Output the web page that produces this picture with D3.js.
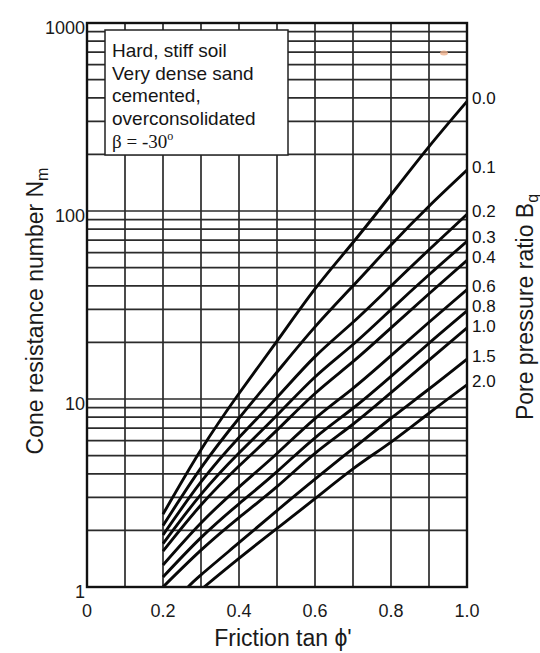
<!DOCTYPE html>
<html><head><meta charset="utf-8">
<script src="https://cdn.jsdelivr.net/npm/d3@7"></script>
<style>body{margin:0;background:#fff}svg{display:block}</style>
</head><body><svg id="c" width="540" height="653"></svg>
<script>
// ---- data ----
const tanPhi = [0.2, 0.3, 0.4, 0.5, 0.6, 0.7, 0.8, 0.9, 1.0];
const nmBq00 = [2.44, 5.37, 10.7, 20.3, 38.5, 68, 122, 220, 383];
const nmBq01 = [2.12, 4.3, 7.9, 13.9, 24.2, 40, 66, 106, 165];
const nmBq02 = [1.89, 3.62, 6.24, 10.2, 16.8, 25.6, 39.9, 62.2, 96];
const nmBq03 = [1.70, 3.11, 5.16, 8.19, 13.1, 19.5, 29.9, 45.8, 69];
const nmBq04 = [1.55, 2.73, 4.40, 6.83, 10.7, 15.8, 23.9, 36.3, 54.6];
const nmBq06 = [1.31, 2.19, 3.40, 5.13, 7.87, 11.4, 17.0, 25.6, 38.2];
const nmBq08 = [1.13, 1.83, 2.77, 4.11, 6.22, 8.93, 13.2, 19.8, 29.4];
const nmBq10 = [1.0, 1.57, 2.34, 3.42, 5.14, 7.34, 10.8, 16.1, 23.9];
const tanPhiBq15 = [0.266, 0.3, 0.4, 0.5, 0.6, 0.7, 0.8, 0.9, 1.0];
const nmBq15 = [1.0, 1.16, 1.72, 2.55, 3.75, 5.45, 7.9, 11.3, 16.3];
const tanPhiBq20 = [0.308, 0.4, 0.5, 0.6, 0.7, 0.8, 0.9, 1.0];
const nmBq20 = [1.0, 1.42, 2.05, 2.95, 4.25, 5.9, 8.4, 11.9];
const bqLabels = ["0.0", "0.1", "0.2", "0.3", "0.4", "0.6", "0.8", "1.0", "1.5", "2.0"];
const xTickValues = [0, 0.2, 0.4, 0.6, 0.8, 1.0];
const xTickLabels = ["0", "0.2", "0.4", "0.6", "0.8", "1.0"];
const yTickValues = [1, 10, 100, 1000];
const yTickLabels = ["1", "10", "100", "1000"];
const legendLines = ["Hard, stiff soil", "Very dense sand", "cemented,", "overconsolidated"];
const betaLine = "β = -30";

const series = [
  {label: bqLabels[0], x: tanPhi, y: nmBq00},
  {label: bqLabels[1], x: tanPhi, y: nmBq01},
  {label: bqLabels[2], x: tanPhi, y: nmBq02},
  {label: bqLabels[3], x: tanPhi, y: nmBq03},
  {label: bqLabels[4], x: tanPhi, y: nmBq04},
  {label: bqLabels[5], x: tanPhi, y: nmBq06},
  {label: bqLabels[6], x: tanPhi, y: nmBq08},
  {label: bqLabels[7], x: tanPhi, y: nmBq10},
  {label: bqLabels[8], x: tanPhiBq15, y: nmBq15},
  {label: bqLabels[9], x: tanPhiBq20, y: nmBq20}
];

// ---- layout ----
const L = 87, R = 467, T = 23, B = 587;
const svg = d3.select("#c");
const x = d3.scaleLinear().domain([0, 1]).range([L, R]);
const y = d3.scaleLog().domain([1, 1000]).range([B, T]);
const sans = "'Liberation Sans', Arial, Helvetica, sans-serif";
const serif = "'Liberation Serif', 'Times New Roman', serif";

// grid
const g = svg.append("g");
const vGrid = d3.range(0, 11).map(i => i / 10);
g.selectAll("line.v").data(vGrid).join("line")
  .attr("x1", d => x(d)).attr("x2", d => x(d))
  .attr("y1", T).attr("y2", B)
  .attr("stroke", "#2b2b2b").attr("stroke-width", 1.7);
const hGrid = [];
[1, 10, 100].forEach(dec => { for (let k = 1; k < 10; k++) hGrid.push(dec * k); });
hGrid.push(1000);
g.selectAll("line.h").data(hGrid).join("line")
  .attr("x1", L).attr("x2", R)
  .attr("y1", d => y(d)).attr("y2", d => y(d))
  .attr("stroke", "#2b2b2b").attr("stroke-width", 1.7);

// clip
svg.append("clipPath").attr("id", "clip").append("rect")
  .attr("x", L).attr("y", T).attr("width", R - L).attr("height", B - T);

// curves
const line = d3.line().x(d => x(d[0])).y(d => y(d[1])).curve(d3.curveNatural);
svg.append("g").attr("clip-path", "url(#clip)")
  .selectAll("path").data(series).join("path")
  .attr("d", s => line(s.x.map((v, i) => [v, s.y[i]])))
  .attr("fill", "none").attr("stroke", "#080808").attr("stroke-width", 2.9)
  .attr("stroke-linejoin", "round");

// frame
svg.append("rect").attr("x", L).attr("y", T).attr("width", R - L).attr("height", B - T)
  .attr("fill", "none").attr("stroke", "#111").attr("stroke-width", 2.4);

// curve labels: at line ends, nudged apart so they never collide
const labelPos = series.map(s => y(s.y[s.y.length - 1]) - 2);
for (let i = 1; i < labelPos.length; i++) {
  if (labelPos[i] - labelPos[i - 1] < 20) {
    const mid = (labelPos[i] + labelPos[i - 1]) / 2;
    labelPos[i - 1] = mid - 10; labelPos[i] = mid + 10;
  }
}
svg.append("g").selectAll("text").data(series).join("text")
  .attr("x", R + 5)
  .attr("y", (s, i) => labelPos[i])
  .attr("dominant-baseline", "middle")
  .attr("font-family", sans).attr("font-size", 17).attr("fill", "#111")
  .text(s => s.label);

// x tick labels
svg.append("g").selectAll("text").data(xTickValues).join("text")
  .attr("x", d => x(d)).attr("y", B + 30)
  .attr("text-anchor", "middle")
  .attr("font-family", sans).attr("font-size", 18).attr("fill", "#1a1a1a")
  .text((d, i) => xTickLabels[i]);

// y tick labels
svg.append("g").selectAll("text").data(yTickValues).join("text")
  .attr("x", L - 2).attr("y", d => y(d) + 6)
  .attr("text-anchor", "end").attr("dominant-baseline", "middle")
  .attr("font-family", sans).attr("font-size", 18).attr("fill", "#1a1a1a")
  .text((d, i) => yTickLabels[i]);

// x title
const xt = svg.append("text").attr("x", (L + R) / 2 + 6).attr("y", 646)
  .attr("text-anchor", "middle").attr("font-family", sans).attr("font-size", 23).attr("fill", "#1a1a1a");
xt.append("tspan").text("Friction tan ");
xt.append("tspan").text("ϕ'");

// y title
const yt = svg.append("text").attr("transform", `translate(43,${(T + B) / 2 + 6}) rotate(-90)`)
  .attr("text-anchor", "middle").attr("font-family", sans).attr("font-size", 23).attr("fill", "#1a1a1a");
yt.append("tspan").text("Cone resistance number N");
yt.append("tspan").attr("font-size", 16).attr("dy", 5).text("m");

// right title
const rt = svg.append("text").attr("transform", `translate(533,${(T + B) / 2 + 2}) rotate(-90)`)
  .attr("text-anchor", "middle").attr("font-family", sans).attr("font-size", 23).attr("fill", "#1a1a1a");
rt.append("tspan").text("Pore pressure ratio B");
rt.append("tspan").attr("font-size", 16).attr("dy", 5).text("q");

// legend box
svg.append("rect").attr("x", 105).attr("y", 30).attr("width", 183).attr("height", 125)
  .attr("fill", "#fff").attr("stroke", "#222").attr("stroke-width", 1.5);
svg.append("g").selectAll("text").data(legendLines).join("text")
  .attr("x", 112).attr("y", (d, i) => 57 + i * 22.7)
  .attr("font-family", sans).attr("font-size", 19).attr("fill", "#151515")
  .text(d => d);
const bt = svg.append("text").attr("x", 112).attr("y", 57 + 4 * 22.7)
  .attr("font-family", serif).attr("font-size", 19).attr("fill", "#151515");
bt.append("tspan").text(betaLine);
bt.append("tspan").attr("font-size", 12).attr("dy", -8).text("o");

// small scan mark near top right
svg.append("ellipse").attr("cx", 444).attr("cy", 53).attr("rx", 4).attr("ry", 2.5)
  .attr("fill", "#eeb08c").attr("opacity", 0.8);
</script></body></html>
